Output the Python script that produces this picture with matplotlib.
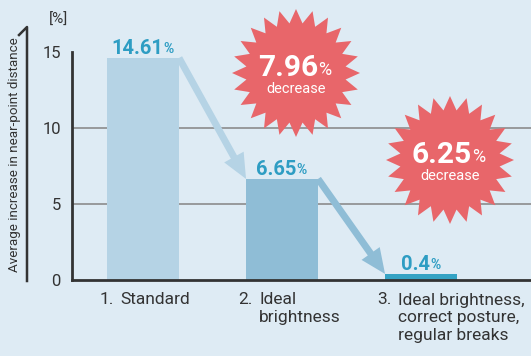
import numpy as np
import matplotlib.pyplot as plt
from matplotlib.patches import Polygon
from matplotlib.lines import Line2D

plt.rcParams['font.family'] = ['Roboto', 'DejaVu Sans']

# data
steps = ['1.', '2.', '3.']
conditions = ['Standard', 'Ideal\nbrightness', 'Ideal brightness,\ncorrect posture,\nregular breaks']
increase = [14.61, 6.65, 0.4]
yticks = [0, 5, 10, 15]

bg = '#deebf4'
bar_colors = ['#b5d3e5', '#8fbdd6', '#34a3c4']
teal = '#2e9dc3'
red = '#e8666a'
dark = '#333333'

fig = plt.figure(figsize=(5.31, 3.56), dpi=100, facecolor=bg)
ax = fig.add_axes([72 / 531, 76 / 356, 459 / 531, 228 / 356])
ax.set_facecolor(bg)

x = np.arange(len(increase))
w = 0.518
ax.bar(x, increase, width=w, color=bar_colors, zorder=2)
for g in [5, 10]:
    ax.axhline(g, color='#8c8c8c', lw=1.2, zorder=1)

ax.set_xlim(-0.511, 2.791)
ax.set_ylim(0, 15)
ax.set_yticks(yticks)
ax.set_xticks([])
ax.tick_params(axis='y', length=0, pad=8, labelsize=12, labelcolor=dark)
for s in ['top', 'right']:
    ax.spines[s].set_visible(False)
for s in ['left', 'bottom']:
    ax.spines[s].set_color(dark)
    ax.spines[s].set_linewidth(2)

# value labels with a smaller percent sign
for xi, v in zip(x, increase):
    t = ax.annotate(f'{v:g}', xy=(xi, v), xytext=(-4.3, 3), textcoords='offset points',
                    ha='center', va='baseline', fontsize=14.5, fontweight='bold',
                    color=teal, annotation_clip=False)
    ax.annotate('%', xy=(1, 0), xycoords=t, xytext=(0.3, 1.2), textcoords='offset points',
                ha='left', va='bottom', fontsize=10, fontweight='bold', color=teal)

# arrows from one bar to the next
for i in range(len(increase) - 1):
    ax.annotate('', xy=(x[i + 1] - w / 2, increase[i + 1]),
                xytext=(x[i] + w / 2, increase[i]),
                arrowprops=dict(arrowstyle='simple,head_length=18,head_width=16,tail_width=5',
                                mutation_scale=1, color=bar_colors[i], lw=0,
                                shrinkA=0, shrinkB=0),
                zorder=3, annotation_clip=False)

# category labels
for xi, st, c in zip(x, steps, conditions):
    ax.annotate(st, xy=(xi, 0), xytext=(-21, -9), textcoords='offset points',
                ha='right', va='top', fontsize=12.5, color=dark, annotation_clip=False)
    ax.annotate(c, xy=(xi, 0), xytext=(-16.5, -9), textcoords='offset points',
                ha='left', va='top', fontsize=12.5, color=dark, linespacing=1.22,
                annotation_clip=False)

# overlay in pixel units for the decorations
deco = fig.add_axes([0, 0, 1, 1], zorder=5)
deco.set_xlim(0, 531)
deco.set_ylim(356, 0)
deco.axis('off')
deco.patch.set_alpha(0)

deco.text(15, 155, 'Average increase in near-point distance', rotation=90,
          ha='center', va='center', fontsize=9.6, color=dark)
deco.add_line(Line2D([19, 27, 27], [35, 27, 281], color=dark, lw=1.8))
deco.text(59, 20, '[%]', ha='center', va='center', fontsize=11, color=dark)


def starburst(cx, cy, r_out, r_in, n=24):
    ang = np.pi / 2 + np.arange(2 * n) * np.pi / n
    r = np.where(np.arange(2 * n) % 2 == 0, r_out, r_in)
    return np.column_stack([cx + r * np.cos(ang), cy - r * np.sin(ang)])


decreases = [increase[i] - increase[i + 1] for i in range(len(increase) - 1)]
centers = [(296, 73), (450, 160)]
for (cx, cy), d in zip(centers, decreases):
    deco.add_patch(Polygon(starburst(cx, cy, 64, 50), closed=True, facecolor=red, lw=0))
    t = deco.text(cx - 8, cy + 3, f'{d:.2f}', ha='center', va='baseline',
                  fontsize=21.5, fontweight='bold', color='white')
    deco.annotate('%', xy=(1, 0), xycoords=t, xytext=(0.3, 2), textcoords='offset points',
                  ha='left', va='bottom', fontsize=13, color='white')
    deco.text(cx, cy + 20, 'decrease', ha='center', va='baseline', fontsize=10.5, color='white')

fig.savefig('out.png', dpi=100, facecolor=bg)
